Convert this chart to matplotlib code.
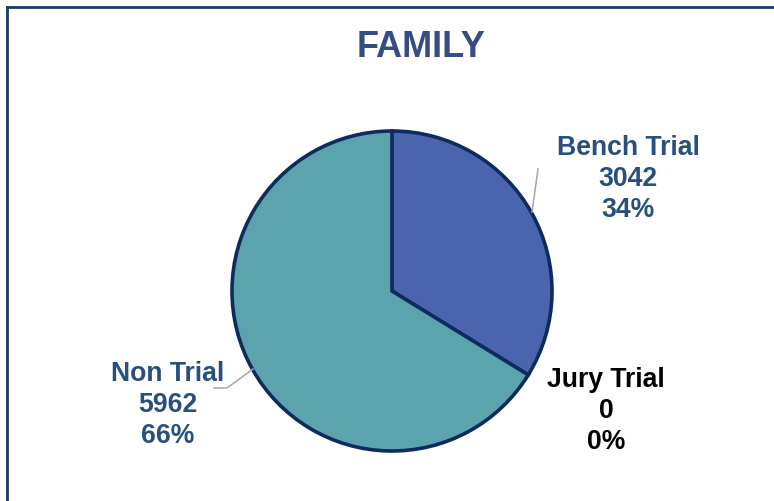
import matplotlib
matplotlib.use("Agg")
import matplotlib.pyplot as plt
from matplotlib.lines import Line2D

categories = ["Bench Trial", "Jury Trial", "Non Trial"]
values = [3042, 0, 5962]
percents = ["34%", "0%", "66%"]
colors = ["#4A64AE", "#4A64AE", "#5BA3AD"]
label_colors = ["#27507E", "#000000", "#27507E"]
title = "FAMILY"

W, H = 774, 501
fig = plt.figure(figsize=(W / 100, H / 100), dpi=100)
ax = fig.add_axes([0, 0, 1, 1])
ax.set_xlim(0, W)
ax.set_ylim(0, H)
ax.set_aspect("equal")
ax.axis("off")

cx, cy, r = 392, H - 291, 160
plot_vals = [v for v in values if v > 0]
plot_cols = [c for v, c in zip(values, colors) if v > 0]
ax.pie(plot_vals, colors=plot_cols, startangle=90, counterclock=False,
       center=(cx, cy), radius=r,
       wedgeprops=dict(edgecolor="#0D2B5E", linewidth=2.6))
ax.set_xlim(0, W)
ax.set_ylim(0, H)

font = "Liberation Sans"
label_pos = [(628, H - 179), (606, H - 411), (168, H - 405)]
for cat, v, p, (lx, ly), lc in zip(categories, values, percents, label_pos, label_colors):
    ax.text(lx, ly, f"{cat}\n{v}\n{p}", ha="center", va="center",
            fontsize=19.2, fontweight="bold", color=lc, family=font,
            linespacing=1.24)

# leader lines
ax.plot([532, 538], [H - 212, H - 169], color="#A6A6A6", lw=1.1)
ax.plot([253, 227, 214], [H - 369, H - 388, H - 388], color="#A6A6A6", lw=1.1)

ax.text(421, H - 47, title, ha="center", va="center", fontsize=26,
        fontweight="bold", color="#354C85", family=font)

# border
fig.add_artist(Line2D([7 / W, 7 / W], [0, 1 - 7 / H], transform=fig.transFigure,
                      color="#1F3864", lw=2))
fig.add_artist(Line2D([7 / W, 1], [1 - 7 / H, 1 - 7 / H], transform=fig.transFigure,
                      color="#1F3864", lw=2))

fig.savefig("out.png", dpi=100, facecolor="white")
